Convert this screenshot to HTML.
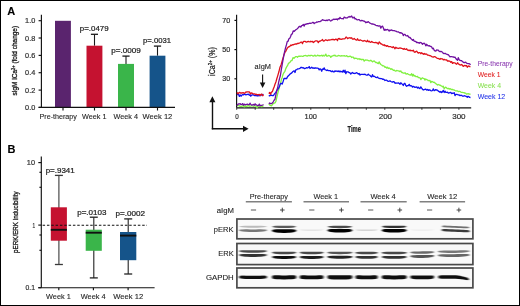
<!DOCTYPE html>
<html><head><meta charset="utf-8"><style>
html,body{margin:0;padding:0;background:#fff;width:520px;height:306px;overflow:hidden;}
svg{display:block;font-family:"Liberation Sans", sans-serif;filter:blur(0.3px);}
</style></head><body>
<svg width="520" height="306" viewBox="0 0 520 306" font-family='"Liberation Sans", sans-serif'><defs><filter id="bl" filterUnits="userSpaceOnUse" x="0" y="0" width="520" height="306"><feGaussianBlur stdDeviation="0.9 0.7"/></filter><filter id="bl2" filterUnits="userSpaceOnUse" x="0" y="0" width="520" height="306"><feGaussianBlur stdDeviation="0.45"/></filter></defs>
<rect x="0.5" y="0.5" width="519" height="305" fill="#fff" stroke="#000" stroke-width="1"/>
<text x="7.2" y="14.5" font-size="11" fill="#000" stroke="#000" stroke-width="0.1" font-weight="bold">A</text>
<line x1="41.4" y1="14.7" x2="41.4" y2="107.4" stroke="#111" stroke-width="1.15"/>
<line x1="38.6" y1="107.4" x2="41.4" y2="107.4" stroke="#111" stroke-width="1.15"/>
<text x="35.3" y="110.0" font-size="7.5" fill="#333" stroke="#333" stroke-width="0.22" text-anchor="end" textLength="10.2" lengthAdjust="spacingAndGlyphs">0.0</text>
<line x1="38.6" y1="90.1" x2="41.4" y2="90.1" stroke="#111" stroke-width="1.15"/>
<text x="35.3" y="92.65" font-size="7.5" fill="#333" stroke="#333" stroke-width="0.22" text-anchor="end" textLength="10.2" lengthAdjust="spacingAndGlyphs">0.2</text>
<line x1="38.6" y1="72.7" x2="41.4" y2="72.7" stroke="#111" stroke-width="1.15"/>
<text x="35.3" y="75.3" font-size="7.5" fill="#333" stroke="#333" stroke-width="0.22" text-anchor="end" textLength="10.2" lengthAdjust="spacingAndGlyphs">0.4</text>
<line x1="38.6" y1="55.4" x2="41.4" y2="55.4" stroke="#111" stroke-width="1.15"/>
<text x="35.3" y="57.95" font-size="7.5" fill="#333" stroke="#333" stroke-width="0.22" text-anchor="end" textLength="10.2" lengthAdjust="spacingAndGlyphs">0.6</text>
<line x1="38.6" y1="38.0" x2="41.4" y2="38.0" stroke="#111" stroke-width="1.15"/>
<text x="35.3" y="40.6" font-size="7.5" fill="#333" stroke="#333" stroke-width="0.22" text-anchor="end" textLength="10.2" lengthAdjust="spacingAndGlyphs">0.8</text>
<line x1="38.6" y1="20.7" x2="41.4" y2="20.7" stroke="#111" stroke-width="1.15"/>
<text x="35.3" y="23.250000000000007" font-size="7.5" fill="#333" stroke="#333" stroke-width="0.22" text-anchor="end" textLength="10.2" lengthAdjust="spacingAndGlyphs">1.0</text>
<rect x="55.0" y="20.8" width="15.9" height="86.6" fill="#5a246e"/>
<line x1="94.5" y1="34.3" x2="94.5" y2="45.7" stroke="#1a1a1a" stroke-width="1.1"/>
<line x1="90.9" y1="34.3" x2="98.0" y2="34.3" stroke="#1a1a1a" stroke-width="1.3"/>
<rect x="86.5" y="45.7" width="15.9" height="61.7" fill="#c51230"/>
<line x1="126.0" y1="56.1" x2="126.0" y2="63.9" stroke="#1a1a1a" stroke-width="1.1"/>
<line x1="122.4" y1="56.1" x2="129.6" y2="56.1" stroke="#1a1a1a" stroke-width="1.3"/>
<rect x="118.0" y="63.9" width="16.0" height="43.5" fill="#3ab54a"/>
<line x1="157.5" y1="46.1" x2="157.5" y2="55.7" stroke="#1a1a1a" stroke-width="1.1"/>
<line x1="153.9" y1="46.1" x2="161.1" y2="46.1" stroke="#1a1a1a" stroke-width="1.3"/>
<rect x="149.6" y="55.7" width="15.8" height="51.7" fill="#15548a"/>
<line x1="38.6" y1="107.4" x2="175" y2="107.4" stroke="#111" stroke-width="1.15"/>
<line x1="63.0" y1="107.4" x2="63.0" y2="110.5" stroke="#111" stroke-width="1.15"/>
<line x1="94.5" y1="107.4" x2="94.5" y2="110.5" stroke="#111" stroke-width="1.15"/>
<line x1="126.0" y1="107.4" x2="126.0" y2="110.5" stroke="#111" stroke-width="1.15"/>
<line x1="157.5" y1="107.4" x2="157.5" y2="110.5" stroke="#111" stroke-width="1.15"/>
<text x="39.5" y="119.4" font-size="7.7" fill="#222" stroke="#222" stroke-width="0.1" textLength="37.4" lengthAdjust="spacingAndGlyphs">Pre-therapy</text>
<text x="82" y="119.4" font-size="7.7" fill="#222" stroke="#222" stroke-width="0.1" textLength="24.5" lengthAdjust="spacingAndGlyphs">Week 1</text>
<text x="113.5" y="119.4" font-size="7.7" fill="#222" stroke="#222" stroke-width="0.1" textLength="24.5" lengthAdjust="spacingAndGlyphs">Week 4</text>
<text x="142.6" y="119.4" font-size="7.7" fill="#222" stroke="#222" stroke-width="0.1" textLength="29.7" lengthAdjust="spacingAndGlyphs">Week 12</text>
<text x="79.8" y="31.4" font-size="7.6" fill="#222" stroke="#222" stroke-width="0.22" textLength="28.8" lengthAdjust="spacingAndGlyphs">p=.0479</text>
<text x="111.2" y="53.3" font-size="7.6" fill="#222" stroke="#222" stroke-width="0.22" textLength="29.6" lengthAdjust="spacingAndGlyphs">p=.0009</text>
<text x="143.1" y="43.1" font-size="7.6" fill="#222" stroke="#222" stroke-width="0.22" textLength="27.9" lengthAdjust="spacingAndGlyphs">p=.0031</text>
<g transform="translate(17.4,95.5) rotate(-90)"><text x="0" y="0" font-size="8" fill="#1a1a1a" stroke="#1a1a1a" stroke-width="0.32" textLength="69.6" lengthAdjust="spacingAndGlyphs">sIgM iCa<tspan font-size="5" dy="-2.5">2+</tspan><tspan dy="2.5"> (fold change)</tspan></text></g>
<line x1="236.6" y1="14.7" x2="236.6" y2="107.8" stroke="#111" stroke-width="1.15"/>
<line x1="234.4" y1="20.4" x2="236.6" y2="20.4" stroke="#111" stroke-width="1.15"/>
<text x="230.2" y="22.9" font-size="7.5" fill="#333" stroke="#333" stroke-width="0.22" text-anchor="end" textLength="8" lengthAdjust="spacingAndGlyphs">70</text>
<line x1="234.4" y1="49.6" x2="236.6" y2="49.6" stroke="#111" stroke-width="1.15"/>
<text x="230.2" y="52.1" font-size="7.5" fill="#333" stroke="#333" stroke-width="0.22" text-anchor="end" textLength="8" lengthAdjust="spacingAndGlyphs">50</text>
<line x1="234.4" y1="78.8" x2="236.6" y2="78.8" stroke="#111" stroke-width="1.15"/>
<text x="230.2" y="81.3" font-size="7.5" fill="#333" stroke="#333" stroke-width="0.22" text-anchor="end" textLength="8" lengthAdjust="spacingAndGlyphs">30</text>
<line x1="236.6" y1="107.8" x2="471.2" y2="107.8" stroke="#111" stroke-width="1.15"/>
<line x1="236.7" y1="107.8" x2="236.7" y2="109.8" stroke="#222" stroke-width="0.9"/>
<line x1="255.2" y1="107.8" x2="255.2" y2="109.8" stroke="#222" stroke-width="0.9"/>
<line x1="273.7" y1="107.8" x2="273.7" y2="109.8" stroke="#222" stroke-width="0.9"/>
<line x1="292.3" y1="107.8" x2="292.3" y2="109.8" stroke="#222" stroke-width="0.9"/>
<line x1="310.8" y1="107.8" x2="310.8" y2="109.8" stroke="#222" stroke-width="0.9"/>
<line x1="329.3" y1="107.8" x2="329.3" y2="109.8" stroke="#222" stroke-width="0.9"/>
<line x1="347.8" y1="107.8" x2="347.8" y2="109.8" stroke="#222" stroke-width="0.9"/>
<line x1="366.3" y1="107.8" x2="366.3" y2="109.8" stroke="#222" stroke-width="0.9"/>
<line x1="384.8" y1="107.8" x2="384.8" y2="109.8" stroke="#222" stroke-width="0.9"/>
<line x1="403.4" y1="107.8" x2="403.4" y2="109.8" stroke="#222" stroke-width="0.9"/>
<line x1="421.9" y1="107.8" x2="421.9" y2="109.8" stroke="#222" stroke-width="0.9"/>
<line x1="440.4" y1="107.8" x2="440.4" y2="109.8" stroke="#222" stroke-width="0.9"/>
<line x1="458.9" y1="107.8" x2="458.9" y2="109.8" stroke="#222" stroke-width="0.9"/>
<text x="237" y="119.1" font-size="7.5" fill="#333" stroke="#333" stroke-width="0.22" text-anchor="middle" textLength="3.5" lengthAdjust="spacingAndGlyphs">0</text>
<text x="310.8" y="119.1" font-size="7.5" fill="#333" stroke="#333" stroke-width="0.22" text-anchor="middle" textLength="12.4" lengthAdjust="spacingAndGlyphs">100</text>
<text x="385.4" y="119.1" font-size="7.5" fill="#333" stroke="#333" stroke-width="0.22" text-anchor="middle" textLength="13.4" lengthAdjust="spacingAndGlyphs">200</text>
<text x="458.9" y="119.1" font-size="7.5" fill="#333" stroke="#333" stroke-width="0.22" text-anchor="middle" textLength="13.4" lengthAdjust="spacingAndGlyphs">300</text>
<text x="347.5" y="131.9" font-size="8.6" fill="#222" stroke="#222" stroke-width="0.22" font-weight="bold" textLength="13.4" lengthAdjust="spacingAndGlyphs">Time</text>
<line x1="212.5" y1="100" x2="212.5" y2="129.3" stroke="#111" stroke-width="1.4"/>
<path d="M212.4,96.3 L209.4,102.3 L215.4,102.3 Z" fill="#111"/>
<line x1="211.8" y1="128.8" x2="244" y2="128.8" stroke="#111" stroke-width="1.4"/>
<path d="M248.6,128.8 L243,125.7 L243,131.9 Z" fill="#111"/>
<g transform="translate(214.6,75.9) rotate(-90)"><text x="0" y="0" font-size="8.6" fill="#222" stroke="#222" stroke-width="0.25" textLength="28.7" lengthAdjust="spacingAndGlyphs">iCa<tspan font-size="5.5" dy="-3">2+</tspan><tspan dy="3"> (%)</tspan></text></g>
<text x="254.6" y="69.1" font-size="7.4" fill="#222" stroke="#222" stroke-width="0.1" textLength="16.4" lengthAdjust="spacingAndGlyphs">aIgM</text>
<line x1="262.6" y1="74.4" x2="262.6" y2="84" stroke="#111" stroke-width="1.1"/>
<path d="M262.6,88 L259.8,82.5 L265.4,82.5 Z" fill="#111"/>
<polyline points="237.0,106.0 237.8,105.4 238.6,105.7 239.4,105.7 240.2,106.4 241.0,106.3 241.8,106.4 242.6,105.7 243.4,105.7 244.2,107.0 245.0,105.8 245.8,106.6 246.6,106.3 247.4,106.1 248.2,104.7 249.0,106.3 249.8,106.2 250.7,106.1 251.5,105.9 252.3,105.8 253.1,106.3 253.9,106.2 254.7,105.8 255.5,105.9 256.3,106.7 257.1,107.7 257.9,106.1 258.7,105.1 259.5,106.3 260.3,105.8 261.1,106.5 261.9,106.6 262.7,106.2 263.5,105.8" fill="none" stroke="#80f040" stroke-width="1.3" stroke-linejoin="round"/>
<polyline points="268.8,103.8 269.7,105.0 270.5,105.4 271.4,105.8 272.3,104.8 273.2,103.6 274.1,103.2 275.0,102.8 275.9,101.3 276.8,97.3 277.7,93.5 278.6,90.1 279.5,86.9 280.4,83.9 281.3,79.8 282.2,77.4 283.1,74.3 284.0,72.5 284.9,71.3 285.8,68.6 286.7,66.8 287.6,65.4 288.5,63.2 289.4,62.9 290.2,62.0 291.1,60.7 292.0,60.5 293.0,57.6 294.0,58.3 295.0,57.2 295.8,56.6 296.7,56.6 297.5,57.2 298.3,56.4 299.2,56.1 300.0,56.4 300.8,56.1 301.7,56.2 302.5,56.3 303.3,56.3 304.2,55.6 305.0,55.7 305.8,55.5 306.7,56.0 307.5,56.1 308.3,55.4 309.2,55.5 310.0,55.9 310.8,55.4 311.7,55.3 312.5,55.8 313.3,56.0 314.2,55.8 315.0,55.1 315.8,56.1 316.7,55.9 317.5,55.2 318.3,55.4 319.2,56.1 320.0,55.5 320.8,55.8 321.7,55.2 322.5,56.0 323.3,55.2 324.2,56.1 325.0,55.4 325.8,54.1 326.7,56.2 327.5,56.2 328.3,55.5 329.2,55.6 330.0,56.0 330.8,57.4 331.7,56.2 332.5,56.1 333.3,55.4 334.2,55.6 335.0,55.1 335.8,56.1 336.7,56.2 337.5,56.1 338.3,55.5 339.2,55.7 340.0,55.9 340.8,56.1 341.7,55.7 342.5,55.8 343.3,55.9 344.2,55.7 345.0,56.1 345.8,56.2 346.7,55.6 347.5,56.5 348.3,56.7 349.2,56.5 350.0,56.2 350.8,56.3 351.7,57.5 352.5,57.1 353.3,57.1 354.2,58.7 355.0,58.1 355.8,58.4 356.7,58.3 357.5,59.1 358.3,59.0 359.2,58.6 360.0,59.5 360.8,59.0 361.7,59.9 362.5,59.3 363.3,59.3 364.2,61.1 365.0,60.2 365.8,60.0 366.7,60.2 367.5,60.1 368.3,60.7 369.2,60.9 370.0,60.8 370.8,60.2 371.7,61.0 372.5,61.9 373.3,61.3 374.2,60.8 375.0,61.8 375.8,62.6 376.7,62.4 377.5,63.2 378.3,63.6 379.2,61.9 380.0,63.5 380.8,64.5 381.7,65.0 382.5,65.8 383.3,65.7 384.2,66.2 385.0,67.4 385.8,66.9 386.7,68.1 387.5,67.3 388.3,68.5 389.2,67.9 390.0,68.5 390.8,69.4 391.7,68.7 392.5,69.4 393.3,70.3 394.2,70.1 395.0,70.8 395.8,71.1 396.7,70.5 397.5,70.7 398.3,70.8 399.2,71.1 400.0,71.6 400.8,70.9 401.7,72.5 402.5,72.4 403.3,73.2 404.2,73.2 405.0,72.7 405.8,73.9 406.7,74.0 407.5,73.6 408.3,74.2 409.2,74.8 410.0,74.8 410.8,75.2 411.7,73.7 412.5,76.0 413.3,74.4 414.2,76.1 415.0,75.7 415.8,76.7 416.7,76.7 417.5,76.4 418.3,77.7 419.2,77.7 420.0,77.8 420.8,79.6 421.7,78.3 422.5,77.9 423.3,78.3 424.2,78.6 425.0,80.1 425.8,79.0 426.7,79.7 427.5,79.8 428.3,80.7 429.2,80.7 430.0,80.5 430.8,82.7 431.7,81.5 432.5,81.7 433.3,82.3 434.2,82.2 435.0,82.9 435.8,83.6 436.7,84.2 437.5,85.0 438.3,84.5 439.2,85.0 440.0,85.1 440.8,85.6 441.7,86.0 442.5,86.9 443.3,86.2 444.2,88.8 445.0,87.7 445.8,87.1 446.7,88.0 447.5,88.7 448.3,88.3 449.2,89.1 450.0,88.6 450.8,89.2 451.7,89.6 452.5,89.3 453.3,89.9 454.2,89.9 455.0,90.5 455.8,90.8 456.7,90.9 457.5,90.9 458.3,91.6 459.2,91.4 460.0,91.4 460.8,92.1 461.6,92.3 462.4,92.3 463.2,92.6 464.0,92.6 464.8,93.1 465.7,93.1 466.5,94.1 467.3,93.9 468.1,93.6 468.9,94.0 469.7,94.1 470.5,94.4" fill="none" stroke="#80f040" stroke-width="1.3" stroke-linejoin="round"/>
<polyline points="237.0,93.9 237.8,94.7 238.6,94.3 239.4,96.4 240.2,95.0 241.1,96.2 241.9,95.0 242.7,94.6 243.5,94.9 244.3,94.2 245.1,94.2 245.9,94.9 246.8,94.5 247.6,94.3 248.4,94.2 249.2,95.2 250.0,94.7 250.8,96.2 251.6,95.1 252.4,94.8 253.2,94.7 254.0,95.3 254.8,95.6 255.6,95.6 256.4,95.5 257.2,96.1 258.0,95.5 258.9,95.9 259.8,95.2 260.8,95.7 261.7,94.5 262.6,94.7 263.5,94.2" fill="none" stroke="#1010f0" stroke-width="1.3" stroke-linejoin="round"/>
<polyline points="268.8,96.3 269.7,95.5 270.5,95.5 271.4,95.2 272.3,95.6 273.1,95.7 274.0,94.7 274.9,93.4 275.8,92.5 276.8,90.4 277.7,89.5 278.6,88.1 279.5,86.4 280.4,83.6 281.3,83.3 282.2,84.1 283.1,81.6 284.0,78.4 284.9,78.5 285.8,78.5 286.6,78.6 287.5,76.7 288.4,75.7 289.2,75.0 290.1,74.0 291.0,73.4 291.8,72.9 292.6,71.8 293.4,71.2 294.2,70.9 295.0,72.5 295.8,69.8 296.7,69.7 297.5,68.9 298.3,68.9 299.2,68.6 300.0,68.3 300.8,67.5 301.7,67.4 302.5,67.8 303.3,67.7 304.2,68.5 305.0,68.5 305.8,68.1 306.7,67.6 307.5,68.0 308.3,67.7 309.2,66.6 310.0,68.5 310.8,68.0 311.7,67.2 312.5,68.2 313.3,67.9 314.2,68.3 315.0,67.9 315.8,68.0 316.7,68.1 317.5,68.1 318.3,68.3 319.2,69.9 320.0,68.8 320.8,69.3 321.7,71.2 322.5,69.0 323.3,69.4 324.2,67.9 325.0,69.7 325.8,70.0 326.7,70.5 327.5,69.9 328.3,70.7 329.2,70.6 330.0,70.6 330.8,71.1 331.7,71.7 332.5,70.9 333.3,71.8 334.2,71.9 335.0,70.8 335.8,71.4 336.7,71.0 337.5,71.5 338.3,70.9 339.2,71.9 340.0,71.0 340.8,71.9 341.7,71.5 342.5,72.1 343.3,70.3 344.2,72.2 345.0,70.2 345.8,73.7 346.7,71.7 347.5,71.8 348.3,71.9 349.2,72.7 350.0,72.9 350.8,74.0 351.7,73.0 352.5,72.5 353.3,73.3 354.2,73.4 355.0,73.5 355.8,73.1 356.7,72.7 357.5,73.3 358.3,74.1 359.2,73.5 360.0,75.1 360.8,74.3 361.7,74.4 362.5,74.3 363.3,74.4 364.2,74.5 365.0,74.2 365.8,74.8 366.7,75.2 367.5,75.0 368.3,74.1 369.2,75.1 370.0,75.3 370.8,76.4 371.7,77.0 372.5,74.7 373.3,76.5 374.2,76.2 375.0,76.7 375.8,77.4 376.7,77.6 377.5,77.0 378.3,78.0 379.2,78.4 380.0,78.5 380.8,78.6 381.7,78.6 382.5,79.3 383.3,79.1 384.2,79.6 385.0,80.5 385.8,80.1 386.7,80.2 387.5,80.9 388.3,81.3 389.2,81.1 390.0,80.8 390.8,81.5 391.7,81.8 392.5,82.2 393.3,81.6 394.2,81.9 395.0,83.3 395.8,82.9 396.7,83.1 397.5,83.1 398.3,82.8 399.2,83.4 400.0,84.2 400.8,82.8 401.7,83.8 402.5,84.3 403.3,85.5 404.2,83.4 405.0,83.5 405.8,85.5 406.7,86.3 407.5,85.6 408.3,85.7 409.2,84.4 410.0,85.9 410.8,85.7 411.7,85.9 412.5,87.1 413.3,86.4 414.2,86.9 415.0,87.4 415.8,87.1 416.7,87.0 417.5,88.0 418.3,87.3 419.2,88.3 420.0,88.5 420.8,86.9 421.7,88.2 422.5,89.3 423.3,90.0 424.2,89.7 425.0,89.2 425.8,89.2 426.7,90.1 427.5,89.4 428.3,90.4 429.2,89.9 430.0,90.0 430.8,90.7 431.7,90.8 432.5,90.5 433.3,88.9 434.2,90.6 435.0,90.3 435.8,89.6 436.7,90.1 437.5,90.2 438.3,91.1 439.2,91.6 440.0,92.3 440.8,91.5 441.7,92.5 442.5,91.7 443.3,90.4 444.2,92.5 445.0,91.1 445.8,92.3 446.7,92.4 447.5,92.2 448.3,93.2 449.2,92.9 450.0,92.7 450.8,92.5 451.7,93.6 452.5,93.2 453.3,93.3 454.2,92.7 455.0,95.6 455.8,94.4 456.7,94.3 457.5,94.7 458.3,94.8 459.2,95.0 460.0,95.7 460.8,95.2 461.6,95.3 462.4,96.1 463.2,96.2 464.0,96.0 464.8,95.7 465.7,96.2 466.5,96.6 467.3,97.2 468.1,96.3 468.9,96.7 469.7,97.4 470.5,97.5" fill="none" stroke="#1010f0" stroke-width="1.3" stroke-linejoin="round"/>
<polyline points="237.0,92.4 237.9,93.9 238.8,92.8 239.6,92.4 240.5,93.0 241.4,92.9 242.2,93.0 243.1,92.6 244.0,93.3 244.8,93.1 245.6,92.1 246.4,92.0 247.2,91.8 248.0,91.8 248.8,91.8 249.6,92.2 250.4,94.0 251.2,93.0 252.0,93.2 252.8,93.6 253.6,93.9 254.4,93.8 255.2,94.4 256.0,94.1 256.8,94.8 257.7,94.7 258.5,94.7 259.3,94.4 260.2,95.5 261.0,94.4 261.8,94.2 262.7,95.7 263.5,94.8" fill="none" stroke="#e0101a" stroke-width="1.3" stroke-linejoin="round"/>
<polyline points="268.8,93.6 269.7,92.4 270.6,94.3 271.5,92.1 272.4,91.6 273.2,89.3 274.1,87.0 275.0,84.3 275.9,82.0 276.8,78.8 277.7,75.9 278.9,71.8 280.0,67.2 281.2,64.4 282.4,60.2 283.2,57.4 284.1,54.4 284.9,52.4 285.7,51.4 286.5,49.7 287.3,48.1 288.1,47.2 289.0,46.6 289.8,46.5 290.6,45.1 291.5,45.5 292.4,44.7 293.2,44.8 294.1,44.4 295.0,44.1 295.8,43.9 296.7,44.0 297.5,43.3 298.3,43.5 299.2,43.1 300.0,42.8 300.8,42.2 301.7,42.1 302.5,43.6 303.3,41.7 304.2,41.3 305.0,41.3 305.8,41.9 306.7,42.1 307.5,41.7 308.3,41.4 309.2,41.7 310.0,41.9 310.8,41.2 311.7,41.7 312.5,41.4 313.3,42.5 314.2,41.9 315.0,41.1 315.8,40.9 316.7,40.9 317.5,41.2 318.3,42.6 319.2,41.1 320.0,41.3 320.8,40.7 321.7,40.2 322.5,39.5 323.3,41.0 324.2,40.9 325.0,40.3 325.8,39.7 326.7,40.3 327.5,40.5 328.3,40.0 329.2,40.2 330.0,39.8 330.8,39.8 331.7,39.5 332.5,39.5 333.3,39.3 334.2,40.0 335.0,39.7 335.8,39.1 336.7,39.3 337.5,40.6 338.3,38.6 339.2,38.5 340.0,39.4 340.8,39.0 341.7,39.3 342.5,38.9 343.3,38.9 344.2,38.8 345.0,38.7 345.8,37.2 346.7,37.2 347.5,38.6 348.3,38.2 349.2,37.8 350.0,37.7 350.8,38.3 351.7,37.8 352.5,39.2 353.3,39.2 354.2,38.4 355.0,39.2 355.8,39.8 356.7,40.2 357.5,38.7 358.3,40.1 359.2,40.5 360.0,39.9 360.8,40.2 361.7,40.5 362.5,41.1 363.3,41.1 364.2,40.5 365.0,40.8 365.8,41.2 366.7,41.7 367.5,40.3 368.3,41.7 369.2,41.2 370.0,42.1 370.8,42.3 371.7,41.5 372.5,42.2 373.3,42.4 374.2,42.6 375.0,42.6 375.8,42.4 376.7,42.9 377.5,43.0 378.3,44.0 379.2,41.9 380.0,42.8 380.8,43.8 381.7,44.0 382.5,44.7 383.3,45.3 384.2,44.7 385.0,45.8 385.8,45.4 386.7,46.3 387.5,45.6 388.3,46.5 389.2,46.7 390.0,46.6 390.8,46.7 391.7,47.2 392.5,47.6 393.3,46.8 394.2,47.7 395.0,48.8 395.8,47.3 396.7,48.1 397.5,48.1 398.3,48.5 399.2,48.2 400.0,48.0 400.8,48.1 401.7,48.4 402.5,48.6 403.3,49.4 404.2,48.5 405.0,49.4 405.8,49.4 406.7,48.8 407.5,50.2 408.3,50.1 409.2,50.7 410.0,50.0 410.8,50.8 411.7,50.5 412.5,50.9 413.3,50.1 414.2,52.0 415.0,52.3 415.8,51.5 416.7,51.2 417.5,52.4 418.3,53.1 419.2,52.6 420.0,52.6 420.8,53.7 421.7,52.8 422.5,53.4 423.3,54.2 424.2,53.4 425.0,54.3 425.8,54.0 426.7,54.1 427.5,55.2 428.3,55.2 429.2,55.5 430.0,55.7 430.8,55.9 431.7,56.6 432.5,56.9 433.3,57.2 434.2,56.6 435.0,56.7 435.8,57.3 436.7,58.0 437.5,58.4 438.3,58.5 439.2,58.8 440.0,59.4 440.8,58.5 441.7,58.8 442.5,58.9 443.3,59.9 444.2,59.4 445.0,59.8 445.8,59.9 446.7,60.0 447.5,61.0 448.3,61.0 449.2,61.0 450.0,61.4 450.8,62.3 451.7,61.6 452.5,63.4 453.3,62.7 454.2,62.8 455.0,62.9 455.8,63.7 456.7,64.2 457.5,62.7 458.3,63.7 459.2,64.4 460.0,64.9 460.8,65.0 461.6,64.5 462.4,65.2 463.2,66.4 464.0,65.8 464.8,65.4 465.7,65.9 466.5,65.5 467.3,67.2 468.1,66.3 468.9,65.9 469.7,66.7 470.5,66.6" fill="none" stroke="#e0101a" stroke-width="1.3" stroke-linejoin="round"/>
<polyline points="237.0,105.8 237.8,104.4 238.6,103.9 239.4,104.0 240.2,103.7 241.1,104.7 241.9,104.3 242.7,103.6 243.5,105.2 244.3,104.1 245.1,104.9 245.9,104.5 246.8,104.5 247.6,104.2 248.4,104.5 249.2,104.8 250.0,103.2 250.8,104.5 251.7,105.1 252.5,104.8 253.4,104.4 254.2,105.2 255.1,103.8 255.9,104.9 256.8,105.0 257.6,105.7 258.4,105.7 259.3,104.1 260.1,105.8 261.0,105.3 261.8,105.3 262.7,105.0 263.5,104.5" fill="none" stroke="#7010a0" stroke-width="1.3" stroke-linejoin="round"/>
<polyline points="268.8,103.7 269.7,103.0 270.6,103.7 271.4,103.5 272.3,103.2 273.2,101.8 274.1,100.2 275.0,99.2 275.9,94.6 276.8,90.5 277.7,87.5 278.6,82.5 279.5,78.6 280.4,75.5 281.3,69.7 282.1,65.1 283.0,59.8 284.5,52.2 285.4,48.4 286.4,44.9 287.3,41.3 288.1,41.3 288.9,38.7 289.8,38.2 290.6,36.4 291.4,34.3 292.3,33.9 293.2,30.9 294.1,31.4 295.0,30.6 295.8,29.7 296.7,29.2 297.5,28.6 298.3,27.6 299.2,26.5 300.0,26.3 300.8,27.1 301.7,25.6 302.5,25.4 303.3,24.4 304.2,26.1 305.0,24.2 305.8,24.3 306.7,23.9 307.5,23.6 308.3,23.8 309.2,23.3 310.0,23.1 310.8,23.4 311.7,23.0 312.5,22.5 313.3,22.3 314.2,23.6 315.0,22.8 315.8,22.7 316.7,22.0 317.5,22.2 318.3,21.7 319.2,21.7 320.0,21.7 320.8,21.1 321.7,20.5 322.5,19.6 323.3,20.2 324.2,20.4 325.0,20.4 325.8,20.7 326.7,20.1 327.5,20.6 328.3,20.0 329.2,19.6 330.0,20.4 330.8,21.1 331.7,20.1 332.5,20.1 333.3,19.2 334.2,19.5 335.0,19.1 335.8,19.4 336.7,19.0 337.5,19.9 338.3,18.5 339.2,19.0 340.0,17.4 340.8,18.4 341.7,18.7 342.5,18.7 343.3,18.9 344.2,17.1 345.0,17.4 345.8,18.0 346.7,17.9 347.5,17.8 348.3,17.0 349.2,16.5 350.0,17.2 350.8,16.6 351.7,16.0 352.5,17.8 353.3,17.9 354.2,17.1 355.0,19.0 355.8,18.6 356.7,19.6 357.5,19.9 358.3,19.6 359.2,19.7 360.0,20.7 360.8,20.9 361.7,20.4 362.5,20.7 363.3,21.0 364.2,21.1 365.0,21.6 365.8,22.7 366.7,22.1 367.5,22.3 368.3,21.6 369.2,22.6 370.0,23.2 370.8,23.5 371.7,24.0 372.5,23.8 373.3,24.1 374.2,24.5 375.0,24.7 375.8,25.3 376.7,25.7 377.5,25.6 378.3,26.2 379.2,25.8 380.0,25.8 380.8,28.2 381.7,26.5 382.5,26.1 383.3,27.8 384.2,30.4 385.0,29.3 385.8,30.2 386.7,29.6 387.5,29.4 388.3,30.0 389.2,31.1 390.0,30.0 390.8,30.5 391.7,29.9 392.5,30.6 393.3,30.7 394.2,30.6 395.0,30.9 395.8,31.1 396.7,31.6 397.5,31.8 398.3,31.8 399.2,32.5 400.0,33.1 400.8,32.6 401.7,33.2 402.5,33.6 403.3,35.6 404.2,34.3 405.0,34.3 405.8,35.7 406.7,35.8 407.5,35.5 408.3,36.5 409.2,37.6 410.0,37.4 410.8,38.5 411.7,39.4 412.5,40.2 413.3,39.4 414.2,41.2 415.0,41.4 415.8,41.5 416.7,42.5 417.5,42.4 418.3,42.6 419.2,43.3 420.0,42.4 420.8,42.6 421.7,43.1 422.5,44.3 423.3,43.6 424.2,43.2 425.0,43.9 425.8,45.8 426.7,44.3 427.5,45.3 428.3,45.9 429.2,45.6 430.0,46.3 430.8,46.4 431.7,47.0 432.5,48.7 433.3,48.2 434.2,50.2 435.0,50.9 435.8,51.0 436.7,49.8 437.5,50.1 438.3,50.2 439.2,51.2 440.0,51.7 440.8,51.4 441.7,51.7 442.5,52.2 443.3,53.4 444.2,53.7 445.0,53.2 445.8,53.8 446.7,54.2 447.5,54.6 448.3,54.7 449.2,55.8 450.0,56.8 450.8,56.7 451.7,56.6 452.5,56.8 453.3,56.9 454.2,57.4 455.0,57.2 455.8,58.5 456.7,59.5 457.5,60.3 458.3,57.7 459.2,59.7 460.0,60.4 460.8,60.6 461.6,60.7 462.4,61.4 463.2,62.2 464.0,62.6 464.8,62.5 465.7,62.2 466.5,63.1 467.3,63.4 468.1,63.6 468.9,63.7 469.7,63.9 470.5,64.9" fill="none" stroke="#7010a0" stroke-width="1.3" stroke-linejoin="round"/>
<text x="477.7" y="65.9" font-size="7.5" fill="#8a38b0" stroke="#8a38b0" stroke-width="0.06" textLength="35" lengthAdjust="spacingAndGlyphs">Pre-therapy</text>
<text x="477.7" y="76.8" font-size="7.5" fill="#e02020" stroke="#e02020" stroke-width="0.06" textLength="22.8" lengthAdjust="spacingAndGlyphs">Week 1</text>
<text x="477.7" y="87.8" font-size="7.5" fill="#88e050" stroke="#88e050" stroke-width="0.06" textLength="23.3" lengthAdjust="spacingAndGlyphs">Week 4</text>
<text x="477.7" y="98.6" font-size="7.5" fill="#2030e8" stroke="#2030e8" stroke-width="0.06" textLength="27.5" lengthAdjust="spacingAndGlyphs">Week 12</text>
<text x="7.6" y="152.5" font-size="11" fill="#000" stroke="#000" stroke-width="0.1" font-weight="bold">B</text>
<line x1="41.3" y1="156.6" x2="41.3" y2="287.7" stroke="#111" stroke-width="1.15"/>
<line x1="38.3" y1="162.6" x2="41.3" y2="162.6" stroke="#111" stroke-width="1.15"/>
<text x="35" y="165.2" font-size="7.5" fill="#333" stroke="#333" stroke-width="0.22" text-anchor="end" textLength="8.2" lengthAdjust="spacingAndGlyphs">10</text>
<line x1="38.3" y1="225.1" x2="41.3" y2="225.1" stroke="#111" stroke-width="1.15"/>
<text x="35" y="227.7" font-size="7.5" fill="#333" stroke="#333" stroke-width="0.22" text-anchor="end" textLength="2.6" lengthAdjust="spacingAndGlyphs">1</text>
<line x1="38.3" y1="287.7" x2="41.3" y2="287.7" stroke="#111" stroke-width="1.15"/>
<text x="35" y="290.3" font-size="7.5" fill="#333" stroke="#333" stroke-width="0.22" text-anchor="end" textLength="9.5" lengthAdjust="spacingAndGlyphs">0.1</text>
<line x1="39.4" y1="172.3" x2="41.3" y2="172.3" stroke="#111" stroke-width="1.15"/>
<line x1="39.4" y1="187.3" x2="41.3" y2="187.3" stroke="#111" stroke-width="1.15"/>
<line x1="39.4" y1="235" x2="41.3" y2="235" stroke="#111" stroke-width="1.15"/>
<line x1="39.4" y1="250.3" x2="41.3" y2="250.3" stroke="#111" stroke-width="1.15"/>
<line x1="38.3" y1="287.7" x2="154.6" y2="287.7" stroke="#111" stroke-width="1.15"/>
<line x1="58.8" y1="287.7" x2="58.8" y2="290.3" stroke="#111" stroke-width="1.15"/>
<line x1="93.4" y1="287.7" x2="93.4" y2="290.3" stroke="#111" stroke-width="1.15"/>
<line x1="128.1" y1="287.7" x2="128.1" y2="290.3" stroke="#111" stroke-width="1.15"/>
<text x="46.1" y="299.3" font-size="7.7" fill="#222" stroke="#222" stroke-width="0.1" textLength="24.7" lengthAdjust="spacingAndGlyphs">Week 1</text>
<text x="80.7" y="299.3" font-size="7.7" fill="#222" stroke="#222" stroke-width="0.1" textLength="25.0" lengthAdjust="spacingAndGlyphs">Week 4</text>
<text x="113.3" y="299.3" font-size="7.7" fill="#222" stroke="#222" stroke-width="0.1" textLength="30.0" lengthAdjust="spacingAndGlyphs">Week 12</text>
<line x1="58.9" y1="175.4" x2="58.9" y2="264.5" stroke="#3a3a3a" stroke-width="1.1"/>
<line x1="54.9" y1="175.4" x2="62.9" y2="175.4" stroke="#3a3a3a" stroke-width="1.3"/>
<line x1="54.9" y1="264.5" x2="62.9" y2="264.5" stroke="#3a3a3a" stroke-width="1.3"/>
<rect x="50.8" y="207.3" width="16.1" height="33.4" fill="#c51230"/>
<line x1="50.8" y1="229.8" x2="66.9" y2="229.8" stroke="#111" stroke-width="1.9"/>
<line x1="93.8" y1="217.2" x2="93.8" y2="277.9" stroke="#222" stroke-width="1.1"/>
<line x1="89.8" y1="217.2" x2="97.8" y2="217.2" stroke="#222" stroke-width="1.3"/>
<line x1="89.8" y1="277.9" x2="97.8" y2="277.9" stroke="#222" stroke-width="1.3"/>
<rect x="85.7" y="229.7" width="16.1" height="21.1" fill="#3ab54a"/>
<line x1="85.7" y1="232.7" x2="101.8" y2="232.7" stroke="#111" stroke-width="1.9"/>
<line x1="128.2" y1="218.9" x2="128.2" y2="274.0" stroke="#222" stroke-width="1.1"/>
<line x1="124.2" y1="218.9" x2="132.2" y2="218.9" stroke="#222" stroke-width="1.3"/>
<line x1="124.2" y1="274.0" x2="132.2" y2="274.0" stroke="#222" stroke-width="1.3"/>
<rect x="120.0" y="232.0" width="16.3" height="28.2" fill="#15548a"/>
<line x1="120.0" y1="235.6" x2="136.3" y2="235.6" stroke="#111" stroke-width="1.9"/>
<line x1="42.6" y1="225.2" x2="147" y2="225.2" stroke="#111" stroke-width="1.15" stroke-dasharray="2.5,1.83"/>
<text x="45.7" y="172.6" font-size="7.6" fill="#222" stroke="#222" stroke-width="0.22" textLength="29" lengthAdjust="spacingAndGlyphs">p=.9341</text>
<text x="77.2" y="214.6" font-size="7.6" fill="#222" stroke="#222" stroke-width="0.22" textLength="29.3" lengthAdjust="spacingAndGlyphs">p=.0103</text>
<text x="115.5" y="216.2" font-size="7.6" fill="#222" stroke="#222" stroke-width="0.22" textLength="29.5" lengthAdjust="spacingAndGlyphs">p=.0002</text>
<g transform="translate(18.1,252.9) rotate(-90)"><text x="0" y="0" font-size="8" fill="#1a1a1a" stroke="#1a1a1a" stroke-width="0.32" textLength="61.5" lengthAdjust="spacingAndGlyphs">pERK/ERK inducibility</text></g>
<text x="249.7" y="198.6" font-size="7.6" fill="#222" stroke="#222" stroke-width="0.08" textLength="38.3" lengthAdjust="spacingAndGlyphs">Pre-therapy</text>
<line x1="245.8" y1="201.7" x2="291.9" y2="201.7" stroke="#808080" stroke-width="1.6"/>
<text x="313.4" y="198.6" font-size="7.6" fill="#222" stroke="#222" stroke-width="0.08" textLength="24.7" lengthAdjust="spacingAndGlyphs">Week 1</text>
<line x1="303.5" y1="201.7" x2="349" y2="201.7" stroke="#808080" stroke-width="1.6"/>
<text x="370.4" y="198.6" font-size="7.6" fill="#222" stroke="#222" stroke-width="0.08" textLength="25.4" lengthAdjust="spacingAndGlyphs">Week 4</text>
<line x1="360.5" y1="201.7" x2="406.7" y2="201.7" stroke="#808080" stroke-width="1.6"/>
<text x="427.3" y="198.6" font-size="7.6" fill="#222" stroke="#222" stroke-width="0.08" textLength="30.0" lengthAdjust="spacingAndGlyphs">Week 12</text>
<line x1="419.6" y1="201.7" x2="465.1" y2="201.7" stroke="#808080" stroke-width="1.6"/>
<text x="216.8" y="212.5" font-size="7.2" fill="#222" stroke="#222" stroke-width="0.1" textLength="17.2" lengthAdjust="spacingAndGlyphs">aIgM</text>
<line x1="250.9" y1="210" x2="256.1" y2="210" stroke="#444" stroke-width="0.9"/>
<line x1="309.2" y1="210" x2="314.4" y2="210" stroke="#444" stroke-width="0.9"/>
<line x1="368.1" y1="210" x2="373.3" y2="210" stroke="#444" stroke-width="0.9"/>
<line x1="427.0" y1="210" x2="432.2" y2="210" stroke="#444" stroke-width="0.9"/>
<line x1="280.0" y1="210" x2="284.6" y2="210" stroke="#333" stroke-width="0.9"/>
<line x1="282.3" y1="207.7" x2="282.3" y2="212.3" stroke="#333" stroke-width="0.9"/>
<line x1="339.1" y1="210" x2="343.7" y2="210" stroke="#333" stroke-width="0.9"/>
<line x1="341.4" y1="207.7" x2="341.4" y2="212.3" stroke="#333" stroke-width="0.9"/>
<line x1="397.5" y1="210" x2="402.1" y2="210" stroke="#333" stroke-width="0.9"/>
<line x1="399.8" y1="207.7" x2="399.8" y2="212.3" stroke="#333" stroke-width="0.9"/>
<line x1="456.6" y1="210" x2="461.2" y2="210" stroke="#333" stroke-width="0.9"/>
<line x1="458.9" y1="207.7" x2="458.9" y2="212.3" stroke="#333" stroke-width="0.9"/>
<text x="213.8" y="231.8" font-size="7.6" fill="#222" stroke="#222" stroke-width="0.1" textLength="19.6" lengthAdjust="spacingAndGlyphs">pERK</text>
<text x="218.3" y="256.3" font-size="7.6" fill="#222" stroke="#222" stroke-width="0.1" textLength="15.4" lengthAdjust="spacingAndGlyphs">ERK</text>
<text x="205.9" y="280.3" font-size="7.6" fill="#222" stroke="#222" stroke-width="0.1" textLength="27.8" lengthAdjust="spacingAndGlyphs">GAPDH</text>
<rect x="236.9" y="219.0" width="236.0" height="19.8" fill="#f9f9f9" stroke="#4a4a4a" stroke-width="1.7" filter="url(#bl2)"/>
<rect x="236.9" y="243.5" width="236.0" height="21.1" fill="#f9f9f9" stroke="#4a4a4a" stroke-width="1.7" filter="url(#bl2)"/>
<rect x="236.9" y="268.0" width="236.0" height="19.8" fill="#f9f9f9" stroke="#4a4a4a" stroke-width="1.7" filter="url(#bl2)"/>
<path d="M239.3,226.50 L240.4,226.03 L241.6,225.94 L242.7,225.89 L243.9,225.86 L245.0,225.85 L246.2,225.84 L247.3,225.84 L248.4,225.84 L249.6,225.84 L250.7,225.85 L251.9,225.85 L253.0,225.85 L254.1,225.85 L255.3,225.85 L256.4,225.84 L257.6,225.84 L258.7,225.84 L259.9,225.84 L261.0,225.85 L262.1,225.86 L263.3,225.89 L264.4,225.94 L265.6,226.03 L266.7,226.50 L266.7,226.50 L265.6,227.06 L264.4,227.24 L263.3,227.37 L262.1,227.47 L261.0,227.55 L259.9,227.61 L258.7,227.66 L257.6,227.70 L256.4,227.72 L255.3,227.74 L254.1,227.75 L253.0,227.75 L251.9,227.75 L250.7,227.74 L249.6,227.72 L248.4,227.70 L247.3,227.66 L246.2,227.61 L245.0,227.55 L243.9,227.47 L242.7,227.37 L241.6,227.24 L240.4,227.06 L239.3,226.50Z" fill="#bbb" opacity="1.0" filter="url(#bl)"/>
<path d="M238.8,230.20 L240.0,229.58 L241.2,229.46 L242.4,229.40 L243.5,229.38 L244.7,229.36 L245.9,229.36 L247.1,229.37 L248.3,229.37 L249.4,229.38 L250.6,229.39 L251.8,229.40 L253.0,229.40 L254.2,229.40 L255.4,229.39 L256.6,229.38 L257.7,229.37 L258.9,229.37 L260.1,229.36 L261.3,229.36 L262.5,229.38 L263.6,229.40 L264.8,229.46 L266.0,229.58 L267.2,230.20 L267.2,230.20 L266.0,230.98 L264.8,231.25 L263.6,231.43 L262.5,231.58 L261.3,231.70 L260.1,231.79 L258.9,231.86 L257.7,231.92 L256.6,231.96 L255.4,231.98 L254.2,232.00 L253.0,232.00 L251.8,232.00 L250.6,231.98 L249.4,231.96 L248.3,231.92 L247.1,231.86 L245.9,231.79 L244.7,231.70 L243.5,231.58 L242.4,231.43 L241.2,231.25 L240.0,230.98 L238.8,230.20Z" fill="#777" opacity="1.0" filter="url(#bl)"/>
<path d="M272.3,226.60 L273.3,226.03 L274.3,225.90 L275.3,225.83 L276.2,225.79 L277.2,225.77 L278.2,225.75 L279.2,225.74 L280.2,225.74 L281.2,225.74 L282.2,225.75 L283.2,225.75 L284.1,225.75 L285.1,225.75 L286.1,225.75 L287.1,225.74 L288.1,225.74 L289.1,225.74 L290.1,225.75 L291.1,225.77 L292.1,225.79 L293.0,225.83 L294.0,225.90 L295.0,226.03 L296.0,226.60 L296.0,226.60 L295.0,227.27 L294.0,227.48 L293.0,227.63 L292.1,227.74 L291.1,227.83 L290.1,227.90 L289.1,227.95 L288.1,227.99 L287.1,228.02 L286.1,228.04 L285.1,228.05 L284.1,228.05 L283.2,228.05 L282.2,228.04 L281.2,228.02 L280.2,227.99 L279.2,227.95 L278.2,227.90 L277.2,227.83 L276.2,227.74 L275.3,227.63 L274.3,227.48 L273.3,227.27 L272.3,226.60Z" fill="#5a5a5a" opacity="1.0" filter="url(#bl)"/>
<path d="M271.8,230.60 L272.8,229.71 L273.9,229.52 L274.9,229.41 L275.9,229.35 L276.9,229.32 L278.0,229.30 L279.0,229.29 L280.0,229.28 L281.1,229.29 L282.1,229.29 L283.1,229.30 L284.1,229.30 L285.2,229.30 L286.2,229.29 L287.2,229.29 L288.3,229.28 L289.3,229.29 L290.3,229.30 L291.4,229.32 L292.4,229.35 L293.4,229.41 L294.4,229.52 L295.5,229.71 L296.5,230.60 L296.5,230.60 L295.5,231.65 L294.4,231.99 L293.4,232.23 L292.4,232.40 L291.4,232.54 L290.3,232.65 L289.3,232.74 L288.3,232.80 L287.2,232.85 L286.2,232.88 L285.2,232.90 L284.1,232.90 L283.1,232.90 L282.1,232.88 L281.1,232.85 L280.0,232.80 L279.0,232.74 L278.0,232.65 L276.9,232.54 L275.9,232.40 L274.9,232.23 L273.9,231.99 L272.8,231.65 L271.8,230.60Z" fill="#000" opacity="1.0" filter="url(#bl)"/>
<path d="M299.5,229.80 L300.5,229.50 L301.5,229.47 L302.5,229.47 L303.6,229.48 L304.6,229.50 L305.6,229.52 L306.6,229.54 L307.6,229.56 L308.6,229.58 L309.6,229.59 L310.6,229.60 L311.6,229.60 L312.7,229.60 L313.7,229.59 L314.7,229.58 L315.7,229.56 L316.7,229.54 L317.7,229.52 L318.7,229.50 L319.8,229.48 L320.8,229.47 L321.8,229.47 L322.8,229.50 L323.8,229.80 L323.8,229.80 L322.8,230.26 L321.8,230.43 L320.8,230.57 L319.8,230.67 L318.7,230.76 L317.7,230.83 L316.7,230.88 L315.7,230.93 L314.7,230.96 L313.7,230.98 L312.7,231.00 L311.6,231.00 L310.6,231.00 L309.6,230.98 L308.6,230.96 L307.6,230.93 L306.6,230.88 L305.6,230.83 L304.6,230.76 L303.6,230.67 L302.5,230.57 L301.5,230.43 L300.5,230.26 L299.5,229.80Z" fill="#e4e4e4" opacity="1.0" filter="url(#bl)"/>
<path d="M327.7,226.70 L328.7,226.13 L329.7,226.00 L330.8,225.93 L331.8,225.89 L332.8,225.87 L333.8,225.85 L334.8,225.84 L335.8,225.84 L336.9,225.84 L337.9,225.85 L338.9,225.85 L339.9,225.85 L340.9,225.85 L341.9,225.85 L342.9,225.84 L344.0,225.84 L345.0,225.84 L346.0,225.85 L347.0,225.87 L348.0,225.89 L349.1,225.93 L350.1,226.00 L351.1,226.13 L352.1,226.70 L352.1,226.70 L351.1,227.37 L350.1,227.58 L349.1,227.73 L348.0,227.84 L347.0,227.93 L346.0,228.00 L345.0,228.05 L344.0,228.09 L342.9,228.12 L341.9,228.14 L340.9,228.15 L339.9,228.15 L338.9,228.15 L337.9,228.14 L336.9,228.12 L335.8,228.09 L334.8,228.05 L333.8,228.00 L332.8,227.93 L331.8,227.84 L330.8,227.73 L329.7,227.58 L328.7,227.37 L327.7,226.70Z" fill="#4a4a4a" opacity="1.0" filter="url(#bl)"/>
<path d="M327.2,230.30 L328.3,229.41 L329.3,229.22 L330.4,229.11 L331.4,229.05 L332.5,229.02 L333.6,229.00 L334.6,228.99 L335.7,228.98 L336.7,228.99 L337.8,228.99 L338.8,229.00 L339.9,229.00 L341.0,229.00 L342.0,228.99 L343.1,228.99 L344.1,228.98 L345.2,228.99 L346.2,229.00 L347.3,229.02 L348.4,229.05 L349.4,229.11 L350.5,229.22 L351.5,229.41 L352.6,230.30 L352.6,230.30 L351.5,231.35 L350.5,231.69 L349.4,231.93 L348.4,232.10 L347.3,232.24 L346.2,232.35 L345.2,232.44 L344.1,232.50 L343.1,232.55 L342.0,232.58 L341.0,232.60 L339.9,232.60 L338.8,232.60 L337.8,232.58 L336.7,232.55 L335.7,232.50 L334.6,232.44 L333.6,232.35 L332.5,232.24 L331.4,232.10 L330.4,231.93 L329.3,231.69 L328.3,231.35 L327.2,230.30Z" fill="#000" opacity="1.0" filter="url(#bl)"/>
<path d="M355.3,229.80 L356.2,229.45 L357.2,229.40 L358.1,229.39 L359.1,229.40 L360.0,229.41 L360.9,229.43 L361.9,229.45 L362.8,229.46 L363.8,229.48 L364.7,229.49 L365.7,229.50 L366.6,229.50 L367.5,229.50 L368.5,229.49 L369.4,229.48 L370.4,229.46 L371.3,229.45 L372.2,229.43 L373.2,229.41 L374.1,229.40 L375.1,229.39 L376.0,229.40 L377.0,229.45 L377.9,229.80 L377.9,229.80 L377.0,230.31 L376.0,230.50 L375.1,230.64 L374.1,230.76 L373.2,230.85 L372.2,230.92 L371.3,230.98 L370.4,231.03 L369.4,231.06 L368.5,231.08 L367.5,231.10 L366.6,231.10 L365.7,231.10 L364.7,231.08 L363.8,231.06 L362.8,231.03 L361.9,230.98 L360.9,230.92 L360.0,230.85 L359.1,230.76 L358.1,230.64 L357.2,230.50 L356.2,230.31 L355.3,229.80Z" fill="#d4d4d4" opacity="1.0" filter="url(#bl)"/>
<path d="M382.0,226.60 L383.0,226.00 L384.0,225.87 L385.1,225.79 L386.1,225.75 L387.1,225.72 L388.1,225.71 L389.1,225.70 L390.2,225.69 L391.2,225.69 L392.2,225.70 L393.2,225.70 L394.2,225.70 L395.3,225.70 L396.3,225.70 L397.3,225.69 L398.3,225.69 L399.4,225.70 L400.4,225.71 L401.4,225.72 L402.4,225.75 L403.4,225.79 L404.5,225.87 L405.5,226.00 L406.5,226.60 L406.5,226.60 L405.5,227.30 L404.5,227.52 L403.4,227.67 L402.4,227.78 L401.4,227.87 L400.4,227.94 L399.4,228.00 L398.3,228.04 L397.3,228.07 L396.3,228.09 L395.3,228.10 L394.2,228.10 L393.2,228.10 L392.2,228.09 L391.2,228.07 L390.2,228.04 L389.1,228.00 L388.1,227.94 L387.1,227.87 L386.1,227.78 L385.1,227.67 L384.0,227.52 L383.0,227.30 L382.0,226.60Z" fill="#333" opacity="1.0" filter="url(#bl)"/>
<path d="M381.5,230.30 L382.6,229.41 L383.6,229.22 L384.7,229.11 L385.8,229.05 L386.8,229.02 L387.9,229.00 L388.9,228.99 L390.0,228.98 L391.1,228.99 L392.1,228.99 L393.2,229.00 L394.2,229.00 L395.3,229.00 L396.4,228.99 L397.4,228.99 L398.5,228.98 L399.6,228.99 L400.6,229.00 L401.7,229.02 L402.8,229.05 L403.8,229.11 L404.9,229.22 L405.9,229.41 L407.0,230.30 L407.0,230.30 L405.9,231.35 L404.9,231.69 L403.8,231.93 L402.8,232.10 L401.7,232.24 L400.6,232.35 L399.6,232.44 L398.5,232.50 L397.4,232.55 L396.4,232.58 L395.3,232.60 L394.2,232.60 L393.2,232.60 L392.1,232.58 L391.1,232.55 L390.0,232.50 L388.9,232.44 L387.9,232.35 L386.8,232.24 L385.8,232.10 L384.7,231.93 L383.6,231.69 L382.6,231.35 L381.5,230.30Z" fill="#000" opacity="1.0" filter="url(#bl)"/>
<path d="M410.1,229.80 L411.1,229.50 L412.1,229.47 L413.1,229.47 L414.1,229.48 L415.1,229.50 L416.2,229.52 L417.2,229.54 L418.2,229.56 L419.2,229.58 L420.2,229.59 L421.2,229.60 L422.2,229.60 L423.2,229.60 L424.2,229.59 L425.2,229.58 L426.2,229.56 L427.2,229.54 L428.2,229.52 L429.3,229.50 L430.3,229.48 L431.3,229.47 L432.3,229.47 L433.3,229.50 L434.3,229.80 L434.3,229.80 L433.3,230.26 L432.3,230.43 L431.3,230.57 L430.3,230.67 L429.3,230.76 L428.2,230.83 L427.2,230.88 L426.2,230.93 L425.2,230.96 L424.2,230.98 L423.2,231.00 L422.2,231.00 L421.2,231.00 L420.2,230.98 L419.2,230.96 L418.2,230.93 L417.2,230.88 L416.2,230.83 L415.1,230.76 L414.1,230.67 L413.1,230.57 L412.1,230.43 L411.1,230.26 L410.1,229.80Z" fill="#eee" opacity="1.0" filter="url(#bl)"/>
<path d="M441.8,226.30 L443.0,225.58 L444.1,225.57 L445.3,225.59 L446.4,225.63 L447.6,225.68 L448.7,225.73 L449.9,225.78 L451.0,225.83 L452.2,225.89 L453.3,225.94 L454.5,226.00 L455.6,226.05 L456.8,226.10 L458.0,226.16 L459.1,226.21 L460.3,226.27 L461.4,226.32 L462.6,226.38 L463.7,226.44 L464.9,226.50 L466.0,226.57 L467.2,226.65 L468.3,226.77 L469.5,227.60 L469.5,227.60 L468.3,228.32 L467.2,228.33 L466.0,228.31 L464.9,228.27 L463.7,228.22 L462.6,228.17 L461.4,228.12 L460.3,228.07 L459.1,228.01 L458.0,227.96 L456.8,227.90 L455.6,227.85 L454.5,227.80 L453.3,227.74 L452.2,227.69 L451.0,227.63 L449.9,227.58 L448.7,227.52 L447.6,227.46 L446.4,227.40 L445.3,227.33 L444.1,227.25 L443.0,227.13 L441.8,226.30Z" fill="#707070" opacity="1.0" filter="url(#bl)"/>
<path d="M441.3,230.00 L442.5,229.02 L443.7,228.99 L444.9,229.00 L446.1,229.03 L447.3,229.08 L448.5,229.13 L449.7,229.18 L450.9,229.23 L452.1,229.29 L453.3,229.34 L454.5,229.40 L455.6,229.45 L456.8,229.50 L458.0,229.56 L459.2,229.61 L460.4,229.67 L461.6,229.72 L462.8,229.78 L464.0,229.84 L465.2,229.90 L466.4,229.98 L467.6,230.07 L468.8,230.21 L470.0,231.30 L470.0,231.30 L468.8,232.28 L467.6,232.31 L466.4,232.30 L465.2,232.27 L464.0,232.22 L462.8,232.17 L461.6,232.12 L460.4,232.07 L459.2,232.01 L458.0,231.96 L456.8,231.90 L455.6,231.85 L454.5,231.80 L453.3,231.74 L452.1,231.69 L450.9,231.63 L449.7,231.58 L448.5,231.52 L447.3,231.46 L446.1,231.40 L444.9,231.32 L443.7,231.23 L442.5,231.09 L441.3,230.00Z" fill="#3a3a3a" opacity="1.0" filter="url(#bl)"/>
<path d="M238.8,251.10 L240.0,250.49 L241.2,250.36 L242.4,250.30 L243.5,250.26 L244.7,250.24 L245.9,250.23 L247.1,250.23 L248.3,250.23 L249.4,250.24 L250.6,250.24 L251.8,250.25 L253.0,250.25 L254.2,250.25 L255.4,250.24 L256.6,250.24 L257.7,250.23 L258.9,250.23 L260.1,250.23 L261.3,250.24 L262.5,250.26 L263.6,250.30 L264.8,250.36 L266.0,250.49 L267.2,251.10 L267.2,251.10 L266.0,251.84 L264.8,252.08 L263.6,252.25 L262.5,252.38 L261.3,252.49 L260.1,252.57 L258.9,252.63 L257.7,252.68 L256.6,252.71 L255.4,252.73 L254.2,252.75 L253.0,252.75 L251.8,252.75 L250.6,252.73 L249.4,252.71 L248.3,252.68 L247.1,252.63 L245.9,252.57 L244.7,252.49 L243.5,252.38 L242.4,252.25 L241.2,252.08 L240.0,251.84 L238.8,251.10Z" fill="#4a4a4a" opacity="1.0" filter="url(#bl)"/>
<path d="M238.8,255.00 L240.0,254.30 L241.2,254.16 L242.4,254.09 L243.5,254.05 L244.7,254.03 L245.9,254.02 L247.1,254.02 L248.3,254.03 L249.4,254.03 L250.6,254.04 L251.8,254.05 L253.0,254.05 L254.2,254.05 L255.4,254.04 L256.6,254.03 L257.7,254.03 L258.9,254.02 L260.1,254.02 L261.3,254.03 L262.5,254.05 L263.6,254.09 L264.8,254.16 L266.0,254.30 L267.2,255.00 L267.2,255.00 L266.0,255.86 L264.8,256.15 L263.6,256.35 L262.5,256.51 L261.3,256.63 L260.1,256.73 L258.9,256.80 L257.7,256.86 L256.6,256.90 L255.4,256.93 L254.2,256.95 L253.0,256.95 L251.8,256.95 L250.6,256.93 L249.4,256.90 L248.3,256.86 L247.1,256.80 L245.9,256.73 L244.7,256.63 L243.5,256.51 L242.4,256.35 L241.2,256.15 L240.0,255.86 L238.8,255.00Z" fill="#333" opacity="1.0" filter="url(#bl)"/>
<path d="M271.8,252.60 L272.8,251.99 L273.9,251.86 L274.9,251.80 L275.9,251.76 L276.9,251.74 L278.0,251.73 L279.0,251.73 L280.0,251.73 L281.1,251.74 L282.1,251.74 L283.1,251.75 L284.1,251.75 L285.2,251.75 L286.2,251.74 L287.2,251.74 L288.3,251.73 L289.3,251.73 L290.3,251.73 L291.4,251.74 L292.4,251.76 L293.4,251.80 L294.4,251.86 L295.5,251.99 L296.5,252.60 L296.5,252.60 L295.5,253.34 L294.4,253.58 L293.4,253.75 L292.4,253.88 L291.4,253.99 L290.3,254.07 L289.3,254.13 L288.3,254.18 L287.2,254.21 L286.2,254.23 L285.2,254.25 L284.1,254.25 L283.1,254.25 L282.1,254.23 L281.1,254.21 L280.0,254.18 L279.0,254.13 L278.0,254.07 L276.9,253.99 L275.9,253.88 L274.9,253.75 L273.9,253.58 L272.8,253.34 L271.8,252.60Z" fill="#4a4a4a" opacity="1.0" filter="url(#bl)"/>
<path d="M271.8,257.00 L272.8,256.30 L273.9,256.16 L274.9,256.09 L275.9,256.05 L276.9,256.03 L278.0,256.02 L279.0,256.02 L280.0,256.03 L281.1,256.03 L282.1,256.04 L283.1,256.05 L284.1,256.05 L285.2,256.05 L286.2,256.04 L287.2,256.03 L288.3,256.03 L289.3,256.02 L290.3,256.02 L291.4,256.03 L292.4,256.05 L293.4,256.09 L294.4,256.16 L295.5,256.30 L296.5,257.00 L296.5,257.00 L295.5,257.86 L294.4,258.15 L293.4,258.35 L292.4,258.51 L291.4,258.63 L290.3,258.73 L289.3,258.80 L288.3,258.86 L287.2,258.90 L286.2,258.93 L285.2,258.95 L284.1,258.95 L283.1,258.95 L282.1,258.93 L281.1,258.90 L280.0,258.86 L279.0,258.80 L278.0,258.73 L276.9,258.63 L275.9,258.51 L274.9,258.35 L273.9,258.15 L272.8,257.86 L271.8,257.00Z" fill="#111" opacity="1.0" filter="url(#bl)"/>
<path d="M299.5,252.60 L300.5,251.99 L301.5,251.86 L302.5,251.80 L303.6,251.76 L304.6,251.74 L305.6,251.73 L306.6,251.73 L307.6,251.73 L308.6,251.74 L309.6,251.74 L310.6,251.75 L311.6,251.75 L312.7,251.75 L313.7,251.74 L314.7,251.74 L315.7,251.73 L316.7,251.73 L317.7,251.73 L318.7,251.74 L319.8,251.76 L320.8,251.80 L321.8,251.86 L322.8,251.99 L323.8,252.60 L323.8,252.60 L322.8,253.34 L321.8,253.58 L320.8,253.75 L319.8,253.88 L318.7,253.99 L317.7,254.07 L316.7,254.13 L315.7,254.18 L314.7,254.21 L313.7,254.23 L312.7,254.25 L311.6,254.25 L310.6,254.25 L309.6,254.23 L308.6,254.21 L307.6,254.18 L306.6,254.13 L305.6,254.07 L304.6,253.99 L303.6,253.88 L302.5,253.75 L301.5,253.58 L300.5,253.34 L299.5,252.60Z" fill="#4a4a4a" opacity="1.0" filter="url(#bl)"/>
<path d="M299.5,257.00 L300.5,256.30 L301.5,256.16 L302.5,256.09 L303.6,256.05 L304.6,256.03 L305.6,256.02 L306.6,256.02 L307.6,256.03 L308.6,256.03 L309.6,256.04 L310.6,256.05 L311.6,256.05 L312.7,256.05 L313.7,256.04 L314.7,256.03 L315.7,256.03 L316.7,256.02 L317.7,256.02 L318.7,256.03 L319.8,256.05 L320.8,256.09 L321.8,256.16 L322.8,256.30 L323.8,257.00 L323.8,257.00 L322.8,257.86 L321.8,258.15 L320.8,258.35 L319.8,258.51 L318.7,258.63 L317.7,258.73 L316.7,258.80 L315.7,258.86 L314.7,258.90 L313.7,258.93 L312.7,258.95 L311.6,258.95 L310.6,258.95 L309.6,258.93 L308.6,258.90 L307.6,258.86 L306.6,258.80 L305.6,258.73 L304.6,258.63 L303.6,258.51 L302.5,258.35 L301.5,258.15 L300.5,257.86 L299.5,257.00Z" fill="#1a1a1a" opacity="1.0" filter="url(#bl)"/>
<path d="M327.2,252.50 L328.3,251.89 L329.3,251.76 L330.4,251.70 L331.4,251.66 L332.5,251.64 L333.6,251.63 L334.6,251.63 L335.7,251.63 L336.7,251.64 L337.8,251.64 L338.8,251.65 L339.9,251.65 L341.0,251.65 L342.0,251.64 L343.1,251.64 L344.1,251.63 L345.2,251.63 L346.2,251.63 L347.3,251.64 L348.4,251.66 L349.4,251.70 L350.5,251.76 L351.5,251.89 L352.6,252.50 L352.6,252.50 L351.5,253.24 L350.5,253.48 L349.4,253.65 L348.4,253.78 L347.3,253.89 L346.2,253.97 L345.2,254.03 L344.1,254.08 L343.1,254.11 L342.0,254.13 L341.0,254.15 L339.9,254.15 L338.8,254.15 L337.8,254.13 L336.7,254.11 L335.7,254.08 L334.6,254.03 L333.6,253.97 L332.5,253.89 L331.4,253.78 L330.4,253.65 L329.3,253.48 L328.3,253.24 L327.2,252.50Z" fill="#555" opacity="1.0" filter="url(#bl)"/>
<path d="M327.2,256.80 L328.3,256.10 L329.3,255.96 L330.4,255.89 L331.4,255.85 L332.5,255.83 L333.6,255.82 L334.6,255.82 L335.7,255.83 L336.7,255.83 L337.8,255.84 L338.8,255.85 L339.9,255.85 L341.0,255.85 L342.0,255.84 L343.1,255.83 L344.1,255.83 L345.2,255.82 L346.2,255.82 L347.3,255.83 L348.4,255.85 L349.4,255.89 L350.5,255.96 L351.5,256.10 L352.6,256.80 L352.6,256.80 L351.5,257.66 L350.5,257.95 L349.4,258.15 L348.4,258.31 L347.3,258.43 L346.2,258.53 L345.2,258.60 L344.1,258.66 L343.1,258.70 L342.0,258.73 L341.0,258.75 L339.9,258.75 L338.8,258.75 L337.8,258.73 L336.7,258.70 L335.7,258.66 L334.6,258.60 L333.6,258.53 L332.5,258.43 L331.4,258.31 L330.4,258.15 L329.3,257.95 L328.3,257.66 L327.2,256.80Z" fill="#222" opacity="1.0" filter="url(#bl)"/>
<path d="M355.3,252.70 L356.2,252.09 L357.2,251.96 L358.1,251.90 L359.1,251.86 L360.0,251.84 L360.9,251.83 L361.9,251.83 L362.8,251.83 L363.8,251.84 L364.7,251.84 L365.7,251.85 L366.6,251.85 L367.5,251.85 L368.5,251.84 L369.4,251.84 L370.4,251.83 L371.3,251.83 L372.2,251.83 L373.2,251.84 L374.1,251.86 L375.1,251.90 L376.0,251.96 L377.0,252.09 L377.9,252.70 L377.9,252.70 L377.0,253.44 L376.0,253.68 L375.1,253.85 L374.1,253.98 L373.2,254.09 L372.2,254.17 L371.3,254.23 L370.4,254.28 L369.4,254.31 L368.5,254.33 L367.5,254.35 L366.6,254.35 L365.7,254.35 L364.7,254.33 L363.8,254.31 L362.8,254.28 L361.9,254.23 L360.9,254.17 L360.0,254.09 L359.1,253.98 L358.1,253.85 L357.2,253.68 L356.2,253.44 L355.3,252.70Z" fill="#4a4a4a" opacity="1.0" filter="url(#bl)"/>
<path d="M355.3,256.90 L356.2,256.20 L357.2,256.06 L358.1,255.99 L359.1,255.95 L360.0,255.93 L360.9,255.92 L361.9,255.92 L362.8,255.93 L363.8,255.93 L364.7,255.94 L365.7,255.95 L366.6,255.95 L367.5,255.95 L368.5,255.94 L369.4,255.93 L370.4,255.93 L371.3,255.92 L372.2,255.92 L373.2,255.93 L374.1,255.95 L375.1,255.99 L376.0,256.06 L377.0,256.20 L377.9,256.90 L377.9,256.90 L377.0,257.76 L376.0,258.05 L375.1,258.25 L374.1,258.41 L373.2,258.53 L372.2,258.63 L371.3,258.70 L370.4,258.76 L369.4,258.80 L368.5,258.83 L367.5,258.85 L366.6,258.85 L365.7,258.85 L364.7,258.83 L363.8,258.80 L362.8,258.76 L361.9,258.70 L360.9,258.63 L360.0,258.53 L359.1,258.41 L358.1,258.25 L357.2,258.05 L356.2,257.76 L355.3,256.90Z" fill="#333" opacity="1.0" filter="url(#bl)"/>
<path d="M381.5,252.70 L382.6,252.09 L383.6,251.96 L384.7,251.90 L385.8,251.86 L386.8,251.84 L387.9,251.83 L388.9,251.83 L390.0,251.83 L391.1,251.84 L392.1,251.84 L393.2,251.85 L394.2,251.85 L395.3,251.85 L396.4,251.84 L397.4,251.84 L398.5,251.83 L399.6,251.83 L400.6,251.83 L401.7,251.84 L402.8,251.86 L403.8,251.90 L404.9,251.96 L405.9,252.09 L407.0,252.70 L407.0,252.70 L405.9,253.44 L404.9,253.68 L403.8,253.85 L402.8,253.98 L401.7,254.09 L400.6,254.17 L399.6,254.23 L398.5,254.28 L397.4,254.31 L396.4,254.33 L395.3,254.35 L394.2,254.35 L393.2,254.35 L392.1,254.33 L391.1,254.31 L390.0,254.28 L388.9,254.23 L387.9,254.17 L386.8,254.09 L385.8,253.98 L384.7,253.85 L383.6,253.68 L382.6,253.44 L381.5,252.70Z" fill="#4a4a4a" opacity="1.0" filter="url(#bl)"/>
<path d="M381.5,256.90 L382.6,256.20 L383.6,256.06 L384.7,255.99 L385.8,255.95 L386.8,255.93 L387.9,255.92 L388.9,255.92 L390.0,255.93 L391.1,255.93 L392.1,255.94 L393.2,255.95 L394.2,255.95 L395.3,255.95 L396.4,255.94 L397.4,255.93 L398.5,255.93 L399.6,255.92 L400.6,255.92 L401.7,255.93 L402.8,255.95 L403.8,255.99 L404.9,256.06 L405.9,256.20 L407.0,256.90 L407.0,256.90 L405.9,257.76 L404.9,258.05 L403.8,258.25 L402.8,258.41 L401.7,258.53 L400.6,258.63 L399.6,258.70 L398.5,258.76 L397.4,258.80 L396.4,258.83 L395.3,258.85 L394.2,258.85 L393.2,258.85 L392.1,258.83 L391.1,258.80 L390.0,258.76 L388.9,258.70 L387.9,258.63 L386.8,258.53 L385.8,258.41 L384.7,258.25 L383.6,258.05 L382.6,257.76 L381.5,256.90Z" fill="#333" opacity="1.0" filter="url(#bl)"/>
<path d="M410.1,252.40 L411.1,251.77 L412.1,251.63 L413.1,251.55 L414.1,251.50 L415.1,251.46 L416.2,251.43 L417.2,251.41 L418.2,251.40 L419.2,251.39 L420.2,251.38 L421.2,251.36 L422.2,251.35 L423.2,251.33 L424.2,251.31 L425.2,251.29 L426.2,251.27 L427.2,251.25 L428.2,251.23 L429.3,251.23 L430.3,251.23 L431.3,251.25 L432.3,251.30 L433.3,251.40 L434.3,252.00 L434.3,252.00 L433.3,252.76 L432.3,253.01 L431.3,253.20 L430.3,253.35 L429.3,253.47 L428.2,253.57 L427.2,253.65 L426.2,253.71 L425.2,253.76 L424.2,253.80 L423.2,253.83 L422.2,253.85 L421.2,253.86 L420.2,253.87 L419.2,253.86 L418.2,253.84 L417.2,253.81 L416.2,253.77 L415.1,253.70 L414.1,253.62 L413.1,253.50 L412.1,253.35 L411.1,253.12 L410.1,252.40Z" fill="#6a6a6a" opacity="1.0" filter="url(#bl)"/>
<path d="M410.1,256.20 L411.1,255.48 L412.1,255.32 L413.1,255.24 L414.1,255.18 L415.1,255.15 L416.2,255.12 L417.2,255.11 L418.2,255.09 L419.2,255.08 L420.2,255.07 L421.2,255.06 L422.2,255.05 L423.2,255.03 L424.2,255.01 L425.2,254.98 L426.2,254.96 L427.2,254.94 L428.2,254.92 L429.3,254.91 L430.3,254.91 L431.3,254.94 L432.3,254.99 L433.3,255.11 L434.3,255.80 L434.3,255.80 L433.3,256.68 L432.3,256.98 L431.3,257.20 L430.3,257.37 L429.3,257.51 L428.2,257.63 L427.2,257.72 L426.2,257.80 L425.2,257.85 L424.2,257.90 L423.2,257.93 L422.2,257.95 L421.2,257.96 L420.2,257.96 L419.2,257.95 L418.2,257.93 L417.2,257.89 L416.2,257.83 L415.1,257.75 L414.1,257.64 L413.1,257.50 L412.1,257.32 L411.1,257.05 L410.1,256.20Z" fill="#555" opacity="1.0" filter="url(#bl)"/>
<path d="M437.7,251.50 L439.0,250.87 L440.4,250.73 L441.7,250.65 L443.1,250.60 L444.4,250.56 L445.8,250.53 L447.1,250.51 L448.5,250.50 L449.8,250.49 L451.2,250.48 L452.5,250.46 L453.9,250.45 L455.2,250.43 L456.5,250.41 L457.9,250.39 L459.2,250.37 L460.6,250.35 L461.9,250.33 L463.3,250.33 L464.6,250.33 L466.0,250.35 L467.3,250.40 L468.7,250.50 L470.0,251.10 L470.0,251.10 L468.7,251.86 L467.3,252.11 L466.0,252.30 L464.6,252.45 L463.3,252.57 L461.9,252.67 L460.6,252.75 L459.2,252.81 L457.9,252.86 L456.5,252.90 L455.2,252.93 L453.9,252.95 L452.5,252.96 L451.2,252.97 L449.8,252.96 L448.5,252.94 L447.1,252.91 L445.8,252.87 L444.4,252.80 L443.1,252.72 L441.7,252.60 L440.4,252.45 L439.0,252.22 L437.7,251.50Z" fill="#777" opacity="1.0" filter="url(#bl)"/>
<path d="M437.7,255.30 L439.0,254.58 L440.4,254.42 L441.7,254.34 L443.1,254.28 L444.4,254.25 L445.8,254.22 L447.1,254.21 L448.5,254.19 L449.8,254.18 L451.2,254.17 L452.5,254.16 L453.9,254.15 L455.2,254.13 L456.5,254.11 L457.9,254.08 L459.2,254.06 L460.6,254.04 L461.9,254.02 L463.3,254.01 L464.6,254.01 L466.0,254.04 L467.3,254.09 L468.7,254.21 L470.0,254.90 L470.0,254.90 L468.7,255.78 L467.3,256.08 L466.0,256.30 L464.6,256.47 L463.3,256.61 L461.9,256.73 L460.6,256.82 L459.2,256.90 L457.9,256.95 L456.5,257.00 L455.2,257.03 L453.9,257.05 L452.5,257.06 L451.2,257.06 L449.8,257.05 L448.5,257.03 L447.1,256.99 L445.8,256.93 L444.4,256.85 L443.1,256.74 L441.7,256.60 L440.4,256.42 L439.0,256.15 L437.7,255.30Z" fill="#666" opacity="1.0" filter="url(#bl)"/>
<path d="M238.8,277.00 L240.0,275.72 L241.2,275.63 L242.4,275.61 L243.5,275.62 L244.7,275.64 L245.9,275.66 L247.1,275.68 L248.3,275.71 L249.4,275.73 L250.6,275.74 L251.8,275.75 L253.0,275.75 L254.2,275.75 L255.4,275.74 L256.6,275.73 L257.7,275.71 L258.9,275.68 L260.1,275.66 L261.3,275.64 L262.5,275.62 L263.6,275.61 L264.8,275.63 L266.0,275.72 L267.2,277.00 L267.2,277.00 L266.0,278.40 L264.8,278.61 L263.6,278.74 L262.5,278.83 L261.3,278.89 L260.1,278.94 L258.9,278.98 L257.7,279.00 L256.6,279.02 L255.4,279.04 L254.2,279.05 L253.0,279.05 L251.8,279.05 L250.6,279.04 L249.4,279.02 L248.3,279.00 L247.1,278.98 L245.9,278.94 L244.7,278.89 L243.5,278.83 L242.4,278.74 L241.2,278.61 L240.0,278.40 L238.8,277.00Z" fill="#111" opacity="1.0" filter="url(#bl)"/>
<path d="M271.8,277.00 L272.8,275.44 L273.9,275.32 L274.9,275.28 L275.9,275.28 L276.9,275.29 L278.0,275.31 L279.0,275.34 L280.0,275.36 L281.1,275.38 L282.1,275.39 L283.1,275.40 L284.1,275.40 L285.2,275.40 L286.2,275.39 L287.2,275.38 L288.3,275.36 L289.3,275.34 L290.3,275.31 L291.4,275.29 L292.4,275.28 L293.4,275.28 L294.4,275.32 L295.5,275.44 L296.5,277.00 L296.5,277.00 L295.5,278.69 L294.4,278.93 L293.4,279.07 L292.4,279.17 L291.4,279.24 L290.3,279.29 L289.3,279.33 L288.3,279.35 L287.2,279.37 L286.2,279.39 L285.2,279.40 L284.1,279.40 L283.1,279.40 L282.1,279.39 L281.1,279.37 L280.0,279.35 L279.0,279.33 L278.0,279.29 L276.9,279.24 L275.9,279.17 L274.9,279.07 L273.9,278.93 L272.8,278.69 L271.8,277.00Z" fill="#111" opacity="1.0" filter="url(#bl)"/>
<path d="M299.5,277.00 L300.5,275.48 L301.5,275.36 L302.5,275.33 L303.6,275.33 L304.6,275.34 L305.6,275.36 L306.6,275.39 L307.6,275.41 L308.6,275.43 L309.6,275.44 L310.6,275.45 L311.6,275.45 L312.7,275.45 L313.7,275.44 L314.7,275.43 L315.7,275.41 L316.7,275.39 L317.7,275.36 L318.7,275.34 L319.8,275.33 L320.8,275.33 L321.8,275.36 L322.8,275.48 L323.8,277.00 L323.8,277.00 L322.8,278.65 L321.8,278.88 L320.8,279.02 L319.8,279.12 L318.7,279.19 L317.7,279.24 L316.7,279.28 L315.7,279.30 L314.7,279.32 L313.7,279.34 L312.7,279.35 L311.6,279.35 L310.6,279.35 L309.6,279.34 L308.6,279.32 L307.6,279.30 L306.6,279.28 L305.6,279.24 L304.6,279.19 L303.6,279.12 L302.5,279.02 L301.5,278.88 L300.5,278.65 L299.5,277.00Z" fill="#111" opacity="1.0" filter="url(#bl)"/>
<path d="M327.2,277.00 L328.3,275.32 L329.3,275.18 L330.4,275.14 L331.4,275.13 L332.5,275.14 L333.6,275.16 L334.6,275.19 L335.7,275.21 L336.7,275.23 L337.8,275.24 L338.8,275.25 L339.9,275.25 L341.0,275.25 L342.0,275.24 L343.1,275.23 L344.1,275.21 L345.2,275.19 L346.2,275.16 L347.3,275.14 L348.4,275.13 L349.4,275.14 L350.5,275.18 L351.5,275.32 L352.6,277.00 L352.6,277.00 L351.5,278.81 L350.5,279.06 L349.4,279.21 L348.4,279.31 L347.3,279.38 L346.2,279.44 L345.2,279.48 L344.1,279.50 L343.1,279.52 L342.0,279.54 L341.0,279.55 L339.9,279.55 L338.8,279.55 L337.8,279.54 L336.7,279.52 L335.7,279.50 L334.6,279.48 L333.6,279.44 L332.5,279.38 L331.4,279.31 L330.4,279.21 L329.3,279.06 L328.3,278.81 L327.2,277.00Z" fill="#111" opacity="1.0" filter="url(#bl)"/>
<path d="M355.3,277.00 L356.2,275.48 L357.2,275.36 L358.1,275.33 L359.1,275.33 L360.0,275.34 L360.9,275.36 L361.9,275.39 L362.8,275.41 L363.8,275.43 L364.7,275.44 L365.7,275.45 L366.6,275.45 L367.5,275.45 L368.5,275.44 L369.4,275.43 L370.4,275.41 L371.3,275.39 L372.2,275.36 L373.2,275.34 L374.1,275.33 L375.1,275.33 L376.0,275.36 L377.0,275.48 L377.9,277.00 L377.9,277.00 L377.0,278.65 L376.0,278.88 L375.1,279.02 L374.1,279.12 L373.2,279.19 L372.2,279.24 L371.3,279.28 L370.4,279.30 L369.4,279.32 L368.5,279.34 L367.5,279.35 L366.6,279.35 L365.7,279.35 L364.7,279.34 L363.8,279.32 L362.8,279.30 L361.9,279.28 L360.9,279.24 L360.0,279.19 L359.1,279.12 L358.1,279.02 L357.2,278.88 L356.2,278.65 L355.3,277.00Z" fill="#111" opacity="1.0" filter="url(#bl)"/>
<path d="M381.5,277.00 L382.6,275.44 L383.6,275.32 L384.7,275.28 L385.8,275.28 L386.8,275.29 L387.9,275.31 L388.9,275.34 L390.0,275.36 L391.1,275.38 L392.1,275.39 L393.2,275.40 L394.2,275.40 L395.3,275.40 L396.4,275.39 L397.4,275.38 L398.5,275.36 L399.6,275.34 L400.6,275.31 L401.7,275.29 L402.8,275.28 L403.8,275.28 L404.9,275.32 L405.9,275.44 L407.0,277.00 L407.0,277.00 L405.9,278.69 L404.9,278.93 L403.8,279.07 L402.8,279.17 L401.7,279.24 L400.6,279.29 L399.6,279.33 L398.5,279.35 L397.4,279.37 L396.4,279.39 L395.3,279.40 L394.2,279.40 L393.2,279.40 L392.1,279.39 L391.1,279.37 L390.0,279.35 L388.9,279.33 L387.9,279.29 L386.8,279.24 L385.8,279.17 L384.7,279.07 L383.6,278.93 L382.6,278.69 L381.5,277.00Z" fill="#111" opacity="1.0" filter="url(#bl)"/>
<path d="M410.1,277.00 L411.1,275.52 L412.1,275.41 L413.1,275.38 L414.1,275.38 L415.1,275.39 L416.2,275.41 L417.2,275.44 L418.2,275.46 L419.2,275.48 L420.2,275.49 L421.2,275.50 L422.2,275.50 L423.2,275.50 L424.2,275.49 L425.2,275.48 L426.2,275.46 L427.2,275.44 L428.2,275.41 L429.3,275.39 L430.3,275.38 L431.3,275.38 L432.3,275.41 L433.3,275.52 L434.3,277.00 L434.3,277.00 L433.3,278.61 L432.3,278.84 L431.3,278.97 L430.3,279.07 L429.3,279.14 L428.2,279.19 L427.2,279.23 L426.2,279.25 L425.2,279.27 L424.2,279.29 L423.2,279.30 L422.2,279.30 L421.2,279.30 L420.2,279.29 L419.2,279.27 L418.2,279.25 L417.2,279.23 L416.2,279.19 L415.1,279.14 L414.1,279.07 L413.1,278.97 L412.1,278.84 L411.1,278.61 L410.1,277.00Z" fill="#111" opacity="1.0" filter="url(#bl)"/>
<path d="M438.0,277.00 L439.0,275.59 L440.1,275.43 L441.1,275.34 L442.1,275.28 L443.2,275.25 L444.2,275.23 L445.2,275.22 L446.3,275.21 L447.3,275.20 L448.3,275.20 L449.4,275.20 L450.4,275.20 L451.4,275.20 L452.5,275.20 L453.5,275.20 L454.5,275.20 L455.6,275.23 L456.6,275.33 L457.6,275.45 L458.7,275.60 L459.7,275.77 L460.7,275.97 L461.8,276.18 L462.8,276.42 L463.8,276.67 L464.9,276.96 L465.9,277.27 L466.9,277.62 L468.0,278.04 L469.0,279.40 L469.0,279.40 L468.0,280.20 L466.9,280.10 L465.9,279.95 L464.9,279.78 L463.8,279.62 L462.8,279.47 L461.8,279.32 L460.7,279.18 L459.7,279.06 L458.7,278.96 L457.6,278.88 L456.6,278.82 L455.6,278.80 L454.5,278.80 L453.5,278.80 L452.5,278.80 L451.4,278.80 L450.4,278.80 L449.4,278.80 L448.3,278.80 L447.3,278.80 L446.3,278.79 L445.2,278.78 L444.2,278.77 L443.2,278.75 L442.1,278.72 L441.1,278.66 L440.1,278.57 L439.0,278.41 L438.0,277.00Z" fill="#111" filter="url(#bl)"/></svg>
</body></html>
